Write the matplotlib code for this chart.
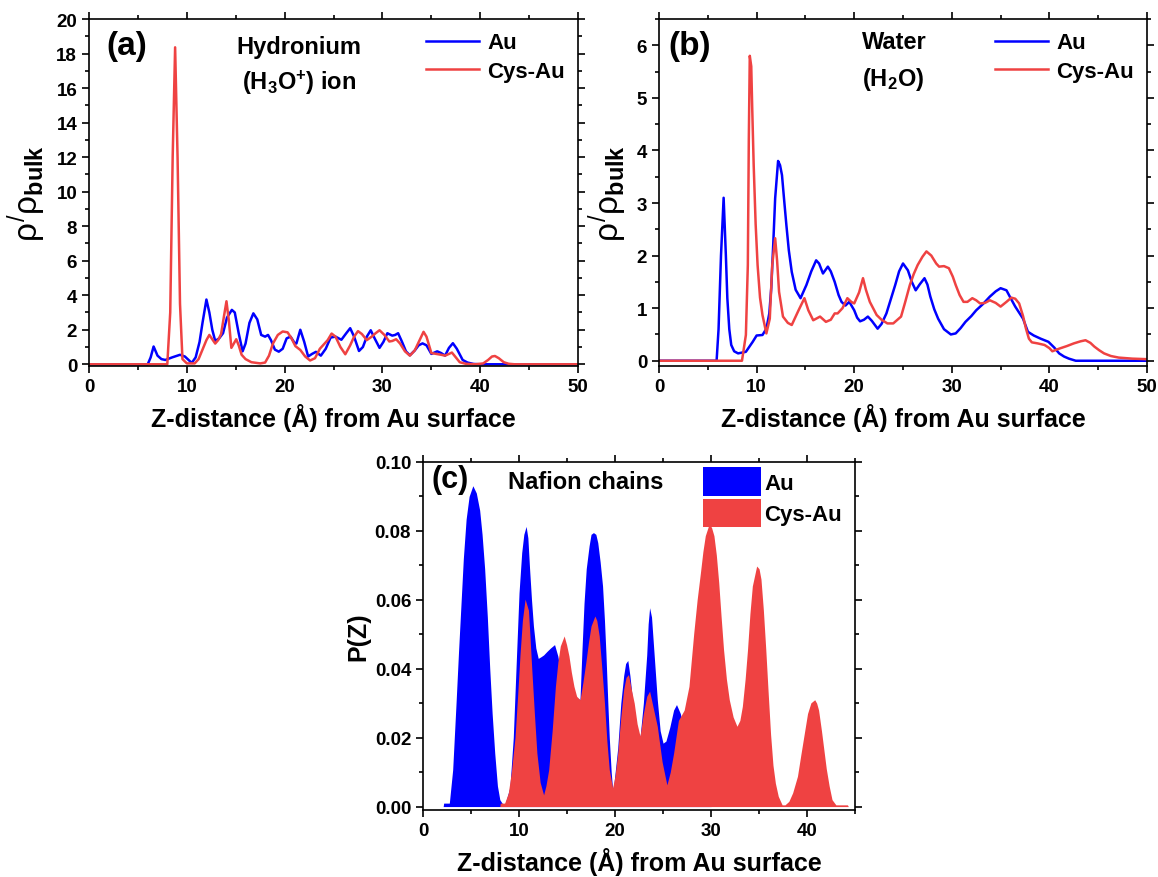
import numpy as np
import matplotlib.pyplot as plt
from matplotlib.ticker import MultipleLocator

plt.rcParams['font.family'] = ['Liberation Sans', 'DejaVu Sans']
plt.rcParams['mathtext.fontset'] = 'custom'
plt.rcParams['mathtext.rm'] = 'Liberation Sans'
plt.rcParams['mathtext.it'] = 'Liberation Sans'
plt.rcParams['mathtext.bf'] = 'Liberation Sans:bold'

BLUE = '#0000ff'
RED = '#ef4242'

# (a) Hydronium ion density profiles
za_au = [0, 6.0, 6.3, 6.6, 7.0, 7.4, 7.8, 8.5, 9.3, 9.8, 10.5, 10.9, 11.3, 11.6, 12.0, 12.3, 12.6,
         12.9, 13.3, 13.7, 14.1, 14.6, 14.9, 15.3, 15.7, 16.0, 16.4, 16.8, 17.2, 17.6, 18.0, 18.3,
         18.6, 19.0, 19.4, 19.8, 20.2, 20.6, 21.0, 21.2, 21.6, 22.0, 22.4, 22.8, 23.2, 23.7, 24.2,
         24.7, 25.2, 25.8, 26.3, 26.7, 27.1, 27.6, 28.0, 28.4, 28.8, 29.2, 29.7, 30.1, 30.5, 31.0,
         31.3, 31.6, 32.0, 32.4, 32.8, 33.3, 33.7, 34.1, 34.5, 35.0, 35.6, 36.0, 36.4, 36.8, 37.2,
         37.6, 38.2, 38.7, 39.3, 40.0, 42.0, 50]
ra_au = [0, 0, 0.4, 1.03, 0.5, 0.3, 0.25, 0.4, 0.55, 0.45, 0.08, 0.4, 1.3, 2.4, 3.75, 3.0, 2.0,
         1.35, 1.5, 1.8, 2.7, 3.15, 3.0, 1.8, 0.75, 1.2, 2.4, 2.95, 2.6, 1.7, 1.6, 1.7,
         1.4, 0.85, 0.73, 0.9, 1.5, 1.6, 1.25, 1.2, 2.0, 1.3, 0.45, 0.6, 0.72, 0.5, 0.9,
         1.55, 1.6, 1.42, 1.8, 2.09, 1.6, 0.77, 1.0, 1.6, 1.97, 1.5, 0.95, 1.3, 1.8, 1.66,
         1.7, 1.8, 1.3, 0.75, 0.52, 0.8, 1.1, 1.21, 1.1, 0.6, 0.75, 0.65, 0.5, 0.95, 1.22,
         0.9, 0.25, 0.1, 0.02, 0.0, 0.0, 0.0]
za_cys = [0, 8.0, 8.3, 8.55, 8.8, 9.05, 9.3, 9.55, 10.0, 10.8, 11.2, 11.6, 12.0, 12.3, 12.6, 12.9,
          13.2, 13.5, 13.8, 14.05, 14.3, 14.55, 14.8, 15.05, 15.3, 15.6, 16.0, 16.6, 17.5, 18.0,
          18.4, 18.8, 19.3, 19.8, 20.3, 20.7, 21.1, 21.6, 22.1, 22.6, 23.1, 23.6, 24.0, 24.4, 24.8,
          25.2, 25.7, 26.2, 26.7, 27.1, 27.5, 27.9, 28.4, 28.9, 29.3, 29.7, 30.2, 30.7, 31.0, 31.4,
          31.8, 32.3, 32.8, 33.3, 33.8, 34.2, 34.5, 35.0, 35.5, 36.0, 36.4, 36.8, 37.1, 37.5, 37.9,
          38.5, 39.5, 40.3, 40.8, 41.2, 41.5, 41.9, 42.4, 42.9, 43.5, 50]
ra_cys = [0, 0, 3.0, 12.0, 18.36, 12.0, 3.5, 0.3, 0.05, 0.05, 0.3, 0.85, 1.4, 1.7, 1.45, 1.2,
          1.4, 1.75, 2.8, 3.65, 2.5, 0.95, 1.2, 1.45, 1.1, 0.55, 0.3, 0.12, 0.05, 0.1,
          0.5, 1.2, 1.7, 1.9, 1.85, 1.5, 1.05, 0.83, 0.45, 0.22, 0.35, 0.9, 1.15, 1.4, 1.78,
          1.6, 1.0, 0.58, 1.1, 1.6, 1.92, 1.75, 1.4, 1.6, 1.8, 1.97, 1.7, 1.32, 1.35, 1.45,
          1.2, 0.75, 0.5, 0.8, 1.4, 1.88, 1.6, 0.65, 0.6, 0.55, 0.5, 0.6, 0.68, 0.4, 0.12,
          0.03, 0.0, 0.05, 0.25, 0.45, 0.48, 0.35, 0.12, 0.03, 0.0, 0.0]

# (b) Water density profiles
zb_au = [0, 5.9, 6.1, 6.35, 6.62, 6.85, 7.0, 7.2, 7.4, 7.7, 8.1, 8.9, 9.6, 10.0, 10.6, 11.0, 11.3,
         11.5, 11.7, 11.9, 12.2, 12.4, 12.6, 12.8, 13.05, 13.3, 13.6, 14.0, 14.5, 15.1, 15.6, 16.1,
         16.4, 16.8, 17.3, 17.6, 18.0, 18.4, 18.7, 19.1, 19.5, 20.0, 20.3, 20.6, 21.0, 21.4, 21.8,
         22.4, 22.8, 23.3, 23.8, 24.2, 24.6, 25.0, 25.5, 25.9, 26.3, 26.7, 27.2, 27.5, 27.8, 28.2,
         28.6, 29.2, 29.9, 30.4, 30.9, 31.4, 32.0, 32.5, 33.2, 33.9, 34.5, 35.0, 35.6, 36.0, 36.5,
         37.3, 37.8, 38.4, 39.1, 39.9, 40.5, 41.0, 41.5, 42.0, 42.7, 50]
rb_au = [0, 0, 0.6, 2.0, 3.1, 2.0, 1.19, 0.6, 0.3, 0.18, 0.14, 0.17, 0.36, 0.48, 0.49, 0.61, 0.9,
         1.38, 2.2, 3.09, 3.8, 3.72, 3.53, 3.1, 2.58, 2.1, 1.69, 1.35, 1.19, 1.44, 1.7, 1.91,
         1.85, 1.66, 1.79, 1.7, 1.5, 1.25, 1.12, 1.05, 1.12, 0.96, 0.82, 0.75, 0.78, 0.84, 0.76,
         0.61, 0.7, 0.9, 1.2, 1.44, 1.7, 1.85, 1.72, 1.5, 1.34, 1.45, 1.57, 1.45, 1.22, 0.98,
         0.8, 0.6, 0.5, 0.52, 0.62, 0.74, 0.85, 0.96, 1.08, 1.22, 1.32, 1.38, 1.34, 1.2, 1.03,
         0.8, 0.55, 0.48, 0.42, 0.36, 0.25, 0.14, 0.08, 0.04, 0.0, 0.0]
zb_cys = [0, 8.5, 8.9, 9.1, 9.2, 9.3, 9.45, 9.55, 9.7, 9.9, 10.1, 10.35, 10.6, 11.0, 11.35, 11.6,
          11.9, 12.1, 12.3, 12.7, 13.2, 13.6, 14.3, 14.9, 15.3, 15.8, 16.5, 17.1, 17.6, 18.0, 18.3,
          18.8, 19.3, 19.7, 20.0, 20.5, 20.9, 21.2, 21.6, 22.3, 22.8, 23.4, 24.0, 24.8, 25.2, 25.7,
          26.1, 26.5, 27.0, 27.4, 27.9, 28.4, 28.7, 29.2, 29.7, 30.1, 30.4, 30.8, 31.2, 31.6, 32.1,
          32.5, 32.9, 33.4, 33.9, 34.5, 35.0, 35.6, 36.1, 36.5, 36.9, 37.3, 37.6, 37.9, 38.2, 38.8,
          39.5, 40.0, 40.3, 41.0, 41.8, 42.5, 43.2, 43.7, 44.2, 44.6, 45.1, 45.6, 46.3, 47.1, 48.5, 50]
rb_cys = [0, 0, 0.49, 1.82, 4.2, 5.8, 5.6, 4.8, 3.72, 2.6, 1.82, 1.2, 0.87, 0.52, 0.8, 1.82,
          2.33, 1.9, 1.31, 0.84, 0.72, 0.68, 0.96, 1.19, 0.96, 0.77, 0.84, 0.74, 0.78, 0.9, 0.9,
          1.0, 1.19, 1.12, 1.09, 1.3, 1.57, 1.35, 1.12, 0.87, 0.78, 0.71, 0.71, 0.84, 1.1, 1.44,
          1.65, 1.82, 1.98, 2.08, 2.0, 1.85, 1.79, 1.8, 1.76, 1.6, 1.44, 1.25, 1.12, 1.12, 1.19,
          1.15, 1.09, 1.1, 1.15, 1.1, 1.03, 1.12, 1.2, 1.18, 1.09, 0.85, 0.61, 0.42, 0.35, 0.33,
          0.3, 0.24, 0.18, 0.23, 0.28, 0.33, 0.37, 0.39, 0.34, 0.27, 0.2, 0.14, 0.09, 0.06, 0.04, 0.03]

# (c) Nafion chain distributions
zc_au = [2.1, 2.15, 2.74, 3.09, 3.44, 3.7, 3.96, 4.2, 4.49, 4.8, 5.19, 5.55, 5.9, 6.15, 6.42, 6.7,
         6.95, 7.2, 7.47, 7.75, 8.0, 8.35, 8.53, 9.05, 9.4, 9.75, 10.0, 10.28, 10.5, 10.74, 10.92,
         11.1, 11.3, 11.5, 11.75, 12.0, 12.3, 12.56, 12.9, 13.27, 13.7, 14.04, 14.4, 14.8, 15.3,
         15.8, 16.35, 16.55, 16.77, 17.0, 17.3, 17.5, 17.75, 18.0, 18.2, 18.45, 18.7, 18.9, 19.05,
         19.25, 19.4, 19.6, 19.75, 19.9, 20.28, 20.6, 20.9, 21.1, 21.33, 21.55, 21.85, 22.2, 22.6,
         22.95, 23.3, 23.45, 23.6, 23.8, 24.1, 24.4, 24.7, 25.0, 25.3, 25.7, 26.1, 26.4, 26.8,
         27.2, 27.7, 28.2, 29.0, 30.0]
pc_au = [0, 0.001, 0.001, 0.0107, 0.030, 0.045, 0.059, 0.072, 0.0834, 0.090, 0.0931, 0.091, 0.086,
         0.079, 0.069, 0.055, 0.040, 0.027, 0.0155, 0.006, 0.002, 0.0005, 0.0005, 0.0056, 0.020,
         0.0446, 0.062, 0.0737, 0.079, 0.0813, 0.078, 0.069, 0.060, 0.0524, 0.046, 0.043, 0.0435,
         0.044, 0.045, 0.046, 0.047, 0.0437, 0.038, 0.035, 0.033, 0.032, 0.031, 0.045, 0.059,
         0.069, 0.0757, 0.079, 0.0795, 0.079, 0.0766, 0.071, 0.064, 0.054, 0.0446, 0.030, 0.020,
         0.010, 0.0049, 0.007, 0.017, 0.030, 0.038, 0.0415, 0.0424, 0.038, 0.030, 0.023, 0.020,
         0.030, 0.044, 0.053, 0.0577, 0.055, 0.043, 0.031, 0.022, 0.0184, 0.019, 0.023, 0.028,
         0.0296, 0.027, 0.022, 0.012, 0.006, 0.002, 0.0]
zc_cys = [8.0, 8.05, 8.5, 8.88, 9.2, 9.58, 9.85, 10.1, 10.35, 10.63, 10.98, 11.15, 11.33, 11.6, 11.86,
          12.2, 12.56, 12.8, 13.09, 13.45, 13.79, 14.05, 14.3, 14.7, 14.95, 15.2, 15.45, 15.72, 16.0,
          16.35, 16.65, 16.95, 17.25, 17.5, 17.9, 18.1, 18.35, 18.6, 18.9, 19.15, 19.4, 19.75, 20.0,
          20.28, 20.6, 20.9, 21.15, 21.4, 21.7, 22.0, 22.3, 22.6, 22.95, 23.3, 23.6, 23.95, 24.4,
          24.9, 25.4, 25.75, 26.1, 26.6, 27.2, 27.7, 28.2, 28.55, 28.9, 29.15, 29.4, 29.8, 30.05,
          30.3, 30.55, 30.8, 31.05, 31.3, 31.6, 31.9, 32.3, 32.7, 33.0, 33.26, 33.55, 33.8, 34.05,
          34.3, 34.75, 35.0, 35.2, 35.45, 35.7, 35.95, 36.2, 36.45, 36.7, 37.0, 37.4, 37.7, 38.1,
          38.5, 39.0, 39.35, 39.7, 40.05, 40.4, 40.8, 41.0, 41.2, 41.5, 41.75, 42.0, 42.3, 42.6,
          43.0, 44.2, 44.3]
pc_cys = [0, 0.001, 0.001, 0.0039, 0.010, 0.020, 0.032, 0.044, 0.054, 0.0602, 0.057, 0.049, 0.0398,
          0.027, 0.0155, 0.007, 0.0034, 0.006, 0.0107, 0.022, 0.0349, 0.042, 0.0466, 0.0495, 0.047,
          0.0437, 0.039, 0.0349, 0.032, 0.031, 0.036, 0.0417, 0.048, 0.0524, 0.0553, 0.054, 0.0495,
          0.041, 0.030, 0.019, 0.0107, 0.0054, 0.009, 0.0155, 0.026, 0.034, 0.0375, 0.0383, 0.034,
          0.030, 0.024, 0.0205, 0.027, 0.032, 0.0335, 0.029, 0.0233, 0.013, 0.0063, 0.010, 0.0155,
          0.025, 0.028, 0.0349, 0.0504, 0.060, 0.068, 0.074, 0.0786, 0.0820, 0.081, 0.0786, 0.073,
          0.065, 0.055, 0.0456, 0.037, 0.031, 0.026, 0.0233, 0.025, 0.0291, 0.037, 0.0456, 0.056,
          0.064, 0.0698, 0.069, 0.066, 0.057, 0.0456, 0.033, 0.021, 0.012, 0.0068, 0.003, 0.0005,
          0.0005, 0.0015, 0.004, 0.0088, 0.015, 0.021, 0.027, 0.0301, 0.031, 0.030, 0.028, 0.022,
          0.0165, 0.011, 0.006, 0.002, 0.0005, 0.0005, 0]


def style_axes(ax, xmaj, xmin, ymaj, ymin):
    ax.xaxis.set_major_locator(MultipleLocator(xmaj))
    ax.xaxis.set_minor_locator(MultipleLocator(xmin))
    ax.yaxis.set_major_locator(MultipleLocator(ymaj))
    ax.yaxis.set_minor_locator(MultipleLocator(ymin))
    ax.tick_params(which='both', direction='out', top=True, right=True, width=1.2, labelsize=13.5)
    ax.tick_params(which='major', length=5)
    ax.tick_params(which='minor', length=3)
    for s in ax.spines.values():
        s.set_linewidth(1.2)
    for lab in ax.get_xticklabels() + ax.get_yticklabels():
        lab.set_fontweight('bold')


fig = plt.figure(figsize=(11.58, 8.78), dpi=100)

# panel (a)
ax1 = fig.add_axes([0.0769, 0.582, 0.4223, 0.3952])
ax1.plot(za_au, ra_au, color=BLUE, lw=1.8, label='Au')
ax1.plot(za_cys, ra_cys, color=RED, lw=1.8, label='Cys-Au')
ax1.set_xlim(0, 50)
ax1.set_ylim(-0.1, 20)
style_axes(ax1, 10, 5, 2, 1)
ax1.set_xlabel('Z-distance (Å) from Au surface', fontsize=18, fontweight='bold', labelpad=6)
ax1.set_ylabel(r'$\rho^{/}\rho_{\mathbf{bulk}}$', fontsize=24, labelpad=6)
ax1.text(0.035, 0.925, '(a)', transform=ax1.transAxes, fontsize=24, fontweight='bold', va='center')
ax1.text(0.43, 0.92, 'Hydronium', transform=ax1.transAxes, fontsize=17, fontweight='bold',
         ha='center', va='center')
ax1.text(0.43, 0.82, r'(H$_\mathbf{3}$O$^\mathbf{+}$) ion', transform=ax1.transAxes, fontsize=17,
         fontweight='bold', ha='center', va='center')
ax1.legend(loc='upper right', frameon=False, handlelength=2.4, handletextpad=0.35,
           labelspacing=0.35, borderaxespad=0.2, prop={'weight': 'bold', 'size': 16})

# panel (b)
ax2 = fig.add_axes([0.5691, 0.582, 0.4214, 0.3952])
ax2.plot(zb_au, rb_au, color=BLUE, lw=1.8, label='Au')
ax2.plot(zb_cys, rb_cys, color=RED, lw=1.8, label='Cys-Au')
ax2.set_xlim(0, 50)
ax2.set_ylim(-0.1, 6.5)
style_axes(ax2, 10, 5, 1, 0.5)
ax2.set_xlabel('Z-distance (Å) from Au surface', fontsize=18, fontweight='bold', labelpad=6)
ax2.set_ylabel(r'$\rho^{/}\rho_{\mathbf{bulk}}$', fontsize=24, labelpad=6)
ax2.text(0.02, 0.925, '(b)', transform=ax2.transAxes, fontsize=24, fontweight='bold', va='center')
ax2.text(0.415, 0.935, 'Water', transform=ax2.transAxes, fontsize=17, fontweight='bold',
         ha='left', va='center')
ax2.text(0.415, 0.83, r'(H$_\mathbf{2}$O)', transform=ax2.transAxes, fontsize=17,
         fontweight='bold', ha='left', va='center')
ax2.legend(loc='upper right', frameon=False, handlelength=2.4, handletextpad=0.35,
           labelspacing=0.35, borderaxespad=0.2, prop={'weight': 'bold', 'size': 16})

# panel (c)
ax3 = fig.add_axes([0.3653, 0.0763, 0.3731, 0.3964])
ax3.text(0.02, 0.95, '(c)', transform=ax3.transAxes, fontsize=22, fontweight='bold', va='center',
         zorder=1)
ax3.fill_between(zc_au, pc_au, color=BLUE, lw=0, label='Au', zorder=2)
ax3.fill_between(zc_cys, pc_cys, color=RED, lw=0, label='Cys-Au', zorder=3)
ax3.set_xlim(0, 45)
ax3.set_ylim(-0.001, 0.1)
style_axes(ax3, 10, 5, 0.02, 0.01)
ax3.set_xlabel('Z-distance (Å) from Au surface', fontsize=18, fontweight='bold', labelpad=6)
ax3.set_ylabel('P(Z)', fontsize=18, fontweight='bold', labelpad=3)
ax3.text(0.197, 0.943, 'Nafion chains', transform=ax3.transAxes, fontsize=17, fontweight='bold',
         ha='left', va='center', zorder=4)
ax3.legend(loc='upper right', bbox_to_anchor=(1.0, 1.023), frameon=False, handlelength=2.6,
           handleheight=1.6, handletextpad=0.15, labelspacing=0.12, borderaxespad=0.2,
           prop={'weight': 'bold', 'size': 16})

fig.savefig('out.png', dpi=100)
